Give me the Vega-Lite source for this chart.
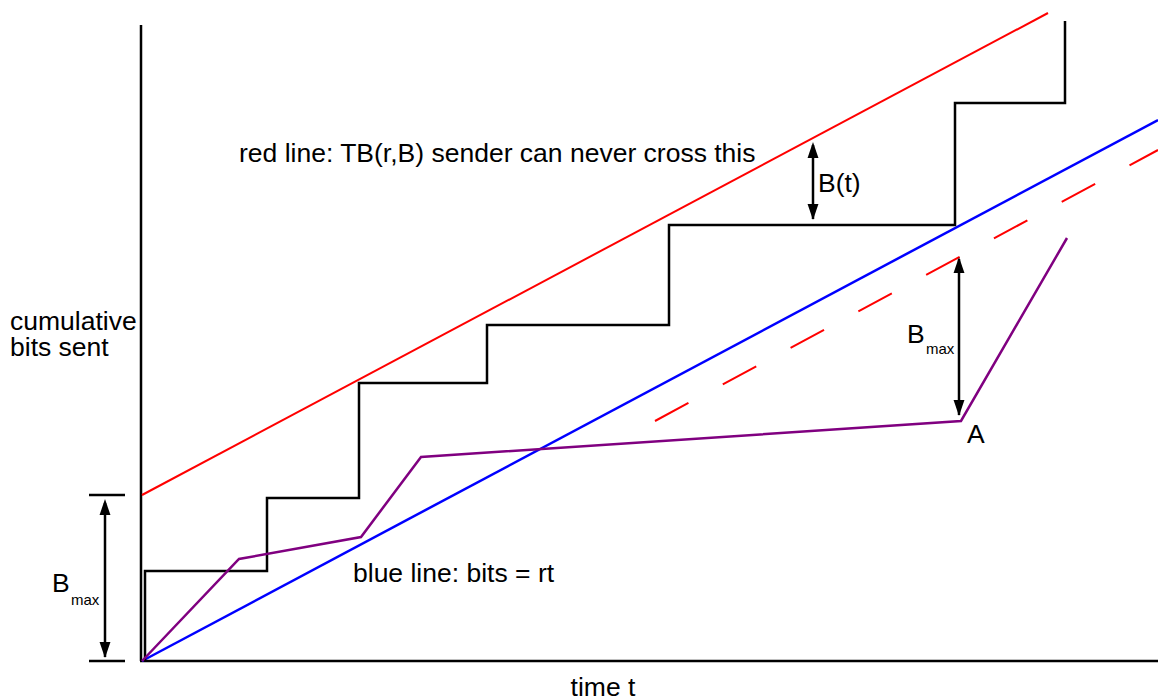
{
  "$schema": "https://vega.github.io/schema/vega-lite/v6.json",
  "width": 1158,
  "height": 700,
  "autosize": "none",
  "padding": 0,
  "background": "white",
  "config": {"view": {"stroke": null}},
  "encoding": {
    "x": {"type": "quantitative", "scale": {"domain": [-142, 1016], "nice": false, "zero": false}, "axis": null},
    "y": {"type": "quantitative", "scale": {"domain": [-39, 661], "nice": false, "zero": false}, "axis": null}
  },
  "layer": [
    {
      "data": {"values": [{"t": -1, "b0": 0, "b1": 636}, {"t": -37, "b0": 4, "b1": 158}, {"t": 817, "b0": 246, "b1": 402}, {"t": 671, "b0": 442, "b1": 516}]},
      "mark": {"type": "rule", "color": "black", "strokeWidth": 2.5},
      "encoding": {"x": {"field": "t"}, "y": {"field": "b0"}, "y2": {"field": "b1"}}
    },
    {
      "data": {"values": [{"b": 0, "t0": -2, "t1": 1016}, {"b": 166, "t0": -53, "t1": -17}, {"b": 0, "t0": -53, "t1": -17}]},
      "mark": {"type": "rule", "color": "black", "strokeWidth": 2.5},
      "encoding": {"y": {"field": "b"}, "x": {"field": "t0"}, "x2": {"field": "t1"}}
    },
    {
      "data": {"values": [{"t": 0, "b": 166}, {"t": 906, "b": 648}]},
      "mark": {"type": "line", "color": "#ff0000", "strokeWidth": 2},
      "encoding": {"x": {"field": "t"}, "y": {"field": "b"}}
    },
    {
      "data": {"values": [{"t": 513, "b": 240}, {"t": 1016, "b": 511}]},
      "mark": {"type": "line", "color": "#ff0000", "strokeWidth": 2, "strokeDash": [38, 39]},
      "encoding": {"x": {"field": "t"}, "y": {"field": "b"}}
    },
    {
      "data": {"values": [{"t": 0, "b": 0}, {"t": 1016, "b": 541}]},
      "mark": {"type": "line", "color": "#0000ff", "strokeWidth": 2.5},
      "encoding": {"x": {"field": "t"}, "y": {"field": "b"}}
    },
    {
      "data": {"values": [
        {"i": 0, "t": 3, "b": 0}, {"i": 1, "t": 3, "b": 90}, {"i": 2, "t": 125, "b": 90}, {"i": 3, "t": 125, "b": 163},
        {"i": 4, "t": 217, "b": 163}, {"i": 5, "t": 217, "b": 278}, {"i": 6, "t": 345, "b": 278}, {"i": 7, "t": 345, "b": 336},
        {"i": 8, "t": 527, "b": 336}, {"i": 9, "t": 527, "b": 436}, {"i": 10, "t": 813, "b": 436}, {"i": 11, "t": 813, "b": 558},
        {"i": 12, "t": 923, "b": 558}, {"i": 13, "t": 923, "b": 640}
      ]},
      "mark": {"type": "line", "color": "black", "strokeWidth": 2.5, "strokeJoin": "miter"},
      "encoding": {"x": {"field": "t"}, "y": {"field": "b"}, "order": {"field": "i", "type": "quantitative"}}
    },
    {
      "data": {"values": [{"t": 0, "b": 0}, {"t": 97, "b": 102}, {"t": 219, "b": 124}, {"t": 279, "b": 204}, {"t": 819, "b": 240}, {"t": 925, "b": 423}]},
      "mark": {"type": "line", "color": "#800080", "strokeWidth": 2.5},
      "encoding": {"x": {"field": "t"}, "y": {"field": "b"}}
    },
    {
      "data": {"values": [{"t": -37, "b": 154}, {"t": 817, "b": 396}, {"t": 671, "b": 511}]},
      "mark": {"type": "point", "shape": "M0,-1L0.68,1L-0.68,1Z", "size": 256, "filled": true, "color": "black", "opacity": 1, "strokeWidth": 0},
      "encoding": {"x": {"field": "t"}, "y": {"field": "b"}}
    },
    {
      "data": {"values": [{"t": -37, "b": 11}, {"t": 817, "b": 253}, {"t": 671, "b": 449}]},
      "mark": {"type": "point", "shape": "M0,1L0.68,-1L-0.68,-1Z", "size": 256, "filled": true, "color": "black", "opacity": 1, "strokeWidth": 0},
      "encoding": {"x": {"field": "t"}, "y": {"field": "b"}}
    },
    {
      "data": {"values": [
        {"t": 97, "b": 499, "label": "red line: TB(r,B) sender can never cross this"},
        {"t": 211, "b": 79, "label": "blue line: bits = rt"},
        {"t": 676, "b": 469, "label": "B(t)"},
        {"t": -90, "b": 69, "label": "B"},
        {"t": 765, "b": 318, "label": "B"},
        {"t": 825, "b": 218, "label": "A"},
        {"t": -132, "b": 331, "label": "cumulative"},
        {"t": -132, "b": 305, "label": "bits sent"}
      ]},
      "mark": {"type": "text", "font": "Liberation Sans", "fontSize": 26.5, "align": "left", "baseline": "alphabetic", "color": "black"},
      "encoding": {"x": {"field": "t"}, "y": {"field": "b"}, "text": {"field": "label"}}
    },
    {
      "data": {"values": [{"t": 461, "b": -35, "label": "time t"}]},
      "mark": {"type": "text", "font": "Liberation Sans", "fontSize": 26.5, "align": "center", "baseline": "alphabetic", "color": "black"},
      "encoding": {"x": {"field": "t"}, "y": {"field": "b"}, "text": {"field": "label"}}
    },
    {
      "data": {"values": [{"t": -71, "b": 56, "label": "max"}, {"t": 784, "b": 307, "label": "max"}]},
      "mark": {"type": "text", "font": "Liberation Sans", "fontSize": 15, "align": "left", "baseline": "alphabetic", "color": "black"},
      "encoding": {"x": {"field": "t"}, "y": {"field": "b"}, "text": {"field": "label"}}
    }
  ]
}
